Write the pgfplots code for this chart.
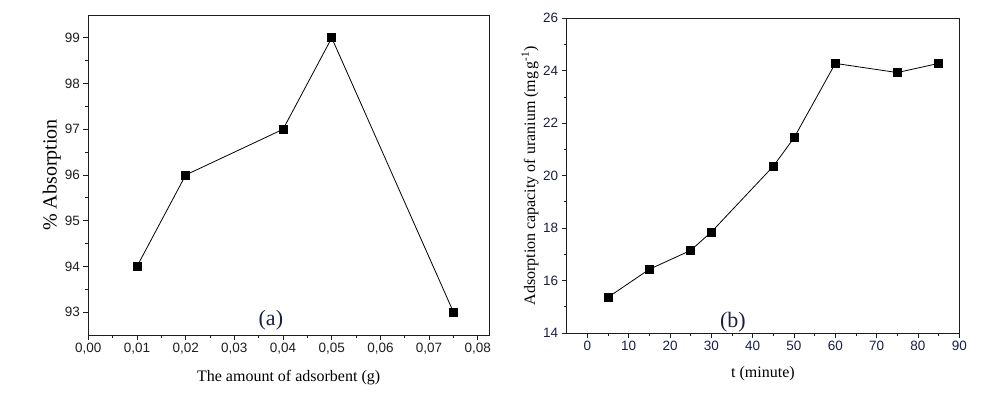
\documentclass[border=0pt]{standalone}
\usepackage{fontspec}
\setmainfont{Liberation Serif}
\newfontfamily\ticksans{Liberation Sans}
\usepackage{pgfplots}
\pgfplotsset{compat=1.18}
\definecolor{navy}{RGB}{25,30,70}
\definecolor{ink}{RGB}{30,30,30}

\pgfplotsset{
  panel/.style={
    scale only axis,
    axis line style={line width=1pt, ink},
    tick align=outside,
    xtick pos=bottom, ytick pos=left,
    minor tick num=1,
    major tick length=5pt, minor tick length=3pt,
    every tick/.style={line width=0.9pt, ink},
    tick label style={font=\fontsize{13.5}{15}\selectfont\ticksans},
    /pgf/number format/assume math mode=true,
    label style={font=\fontsize{16}{18}\selectfont},
    clip=false,
  },
  dat/.style={line width=0.8pt, black, mark=square*, mark size=4pt,
    mark options={solid, fill=black}},
}

\begin{document}
\begin{tikzpicture}[x=1pt,y=1pt]
\useasboundingbox (0,0) rectangle (1006,394);

% (a)
\begin{axis}[panel,
  at={(88.3pt,59pt)}, anchor=south west,
  width=400.7pt, height=320pt,
  xmin=0, xmax=0.0823, ymin=92.5, ymax=99.5,
  xtick={0,0.01,...,0.08}, ytick={93,...,99},
  scaled x ticks=false,
  xticklabel style={/pgf/number format/fixed, /pgf/number format/fixed zerofill,
    /pgf/number format/precision=2, /pgf/number format/use comma},
  tick label style={text=ink},
  xlabel={The amount of adsorbent (g)},
  ylabel={\% Absorption},
  xlabel style={at={(axis description cs:0.5,-0.134)}, anchor=center},
  ylabel style={at={(axis description cs:-0.091,0.5)}, anchor=center,
    font=\fontsize{20}{22}\selectfont},
]
\addplot[dat] coordinates {(0.01,94) (0.02,96) (0.04,97) (0.05,99) (0.075,93)};
\node[font=\fontsize{22}{24}\selectfont, text=navy] at (axis cs:0.0375,92.82) {(a)};
\end{axis}

% (b)
\begin{axis}[panel,
  at={(566.7pt,61pt)}, anchor=south west,
  width=392.6pt, height=314.7pt,
  xmin=-5, xmax=90, ymin=14, ymax=26,
  xtick={0,10,...,90}, ytick={14,16,...,26},
  tick label style={text=navy},
  xlabel={t (minute)},
  ylabel={Adsorption capacity of uranium (mg\,g\textsuperscript{-1})},
  xlabel style={at={(axis description cs:0.5,-0.13)}, anchor=center},
  ylabel style={at={(axis description cs:-0.0935,0.5)}, anchor=center},
]
\addplot[dat] coordinates {(5,15.36) (15,16.43) (25,17.15) (30,17.85) (45,20.36) (50,21.44) (60,24.28) (75,23.93) (85,24.28)};
\node[font=\fontsize{22}{24}\selectfont, text=navy] at (axis cs:35.2,14.43) {(b)};
\end{axis}
\end{tikzpicture}
\end{document}
